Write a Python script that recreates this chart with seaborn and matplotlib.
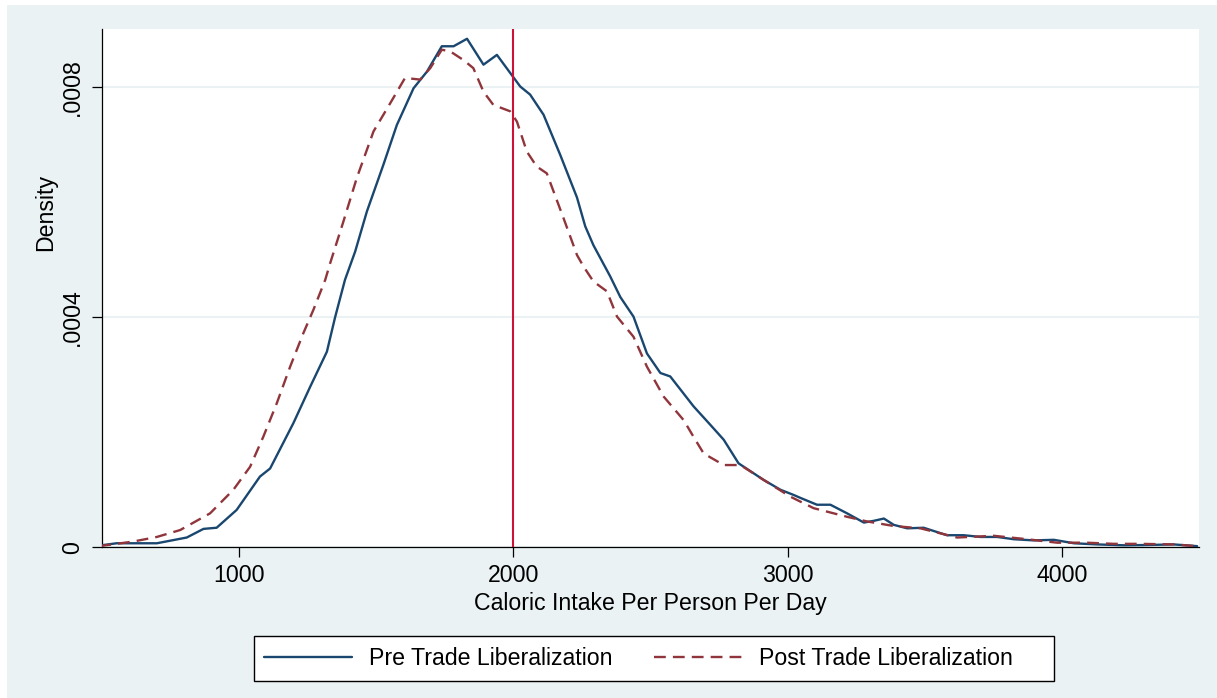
import matplotlib
matplotlib.use('Agg')
import matplotlib.pyplot as plt
from matplotlib.lines import Line2D
from matplotlib.patches import Rectangle
import pandas as pd
import seaborn as sns

# Kernel density values
pre_x = [490, 553, 639, 700, 809, 870, 918, 991, 1076, 1113, 1198, 1259, 1320, 1350,
         1386, 1423, 1466, 1526, 1575, 1636, 1685, 1739, 1782, 1831, 1891, 1940, 1994,
         2025, 2061, 2110, 2171, 2232, 2262, 2292, 2353, 2390, 2438, 2487, 2536, 2572,
         2657, 2718, 2767, 2821, 2913, 2974, 3022, 3046, 3107, 3156, 3217, 3278, 3314,
         3351, 3387, 3436, 3496, 3581, 3642, 3703, 3764, 3825, 3898, 3971, 4044, 4129,
         4226, 4311, 4408, 4493]
pre_density = [0.000003, 0.000007, 0.000007, 0.000007, 0.000017, 0.000032, 0.000034,
               0.000065, 0.000123, 0.000137, 0.000216, 0.000279, 0.000340, 0.000400,
               0.000465, 0.000514, 0.000584, 0.000665, 0.000734, 0.000798, 0.000827,
               0.000871, 0.000871, 0.000884, 0.000839, 0.000856, 0.000821, 0.000801,
               0.000787, 0.000752, 0.000682, 0.000608, 0.000558, 0.000525, 0.000471,
               0.000435, 0.000401, 0.000337, 0.000303, 0.000297, 0.000245, 0.000213,
               0.000187, 0.000146, 0.000117, 0.000100, 0.000091, 0.000086, 0.000074,
               0.000074, 0.000059, 0.000043, 0.000046, 0.000050, 0.000039, 0.000033,
               0.000034, 0.000021, 0.000021, 0.000018, 0.000018, 0.000014, 0.000012,
               0.000013, 0.000007, 0.000005, 0.0000035, 0.000004, 0.000005, 0.000002]

post_x = [490, 614, 700, 785, 894, 979, 1040, 1088, 1137, 1186, 1234, 1271, 1314, 1332,
          1380, 1429, 1490, 1551, 1605, 1660, 1697, 1739, 1770, 1818, 1854, 1891, 1927,
          1988, 2013, 2049, 2085, 2122, 2183, 2232, 2256, 2292, 2341, 2378, 2438, 2487,
          2548, 2621, 2657, 2694, 2767, 2828, 2913, 3010, 3095, 3217, 3289, 3387, 3484,
          3618, 3752, 3874, 3983, 4092, 4190, 4286, 4408, 4493]
post_density = [0.000002, 0.000010, 0.000018, 0.000030, 0.000059, 0.000100, 0.000140,
                0.000192, 0.000250, 0.000314, 0.000372, 0.000413, 0.000465, 0.000494,
                0.000566, 0.000642, 0.000723, 0.000772, 0.000816, 0.000813, 0.000833,
                0.000865, 0.000862, 0.000847, 0.000833, 0.000792, 0.000769, 0.000758,
                0.000740, 0.000688, 0.000662, 0.000650, 0.000572, 0.000508, 0.000488,
                0.000462, 0.000445, 0.000401, 0.000366, 0.000314, 0.000262, 0.000221,
                0.000192, 0.000163, 0.000143, 0.000143, 0.000117, 0.000088, 0.000068,
                0.000053, 0.000045, 0.000037, 0.000033, 0.000017, 0.000020, 0.000014,
                0.000008, 0.000008, 0.000006, 0.000006, 0.000005, 0.000002]

series_names = ['Pre Trade Liberalization', 'Post Trade Liberalization']
x_ticks = [1000, 2000, 3000, 4000]
y_ticks = [0, 0.0004, 0.0008]
y_tick_labels = ['0', '.0004', '.0008']
cutoff = 2000

df = pd.concat([
    pd.DataFrame({'calories': pre_x, 'density': pre_density, 'period': series_names[0]}),
    pd.DataFrame({'calories': post_x, 'density': post_density, 'period': series_names[1]}),
])

BG = '#EAF2F3'
NAVY = '#1A476F'
MAROON = '#90353B'
RED = '#CC1237'
FS = 16.7
W, H = 1217, 698
DASH = (5, 3)

sns.set_style('ticks')
plt.rcParams['font.family'] = ['Liberation Sans', 'DejaVu Sans']
plt.rcParams['text.color'] = 'black'
plt.rcParams['xtick.color'] = 'black'
plt.rcParams['ytick.color'] = 'black'
plt.rcParams['axes.labelcolor'] = 'black'

fig = plt.figure(figsize=(W / 100, H / 100), dpi=100, facecolor='white')
# light graph region with a thin white margin at top and left
fig.patches.append(Rectangle((7 / W, 0), 1, 1 - 5 / H, transform=fig.transFigure,
                             facecolor=BG, edgecolor='none', zorder=-10))
# legend box drawn by hand so its padding matches
fig.patches.append(Rectangle((254 / W, (H - 681) / H), 800 / W, 45 / H,
                             transform=fig.transFigure, facecolor='white',
                             edgecolor='black', linewidth=1.0, zorder=-5))

ax = fig.add_axes([102 / W, 150.7 / H, 1097 / W, 518.3 / H])
ax.set_facecolor('white')

sns.lineplot(data=df, x='calories', y='density', hue='period', style='period',
             hue_order=series_names, style_order=series_names,
             palette={series_names[0]: NAVY, series_names[1]: MAROON},
             dashes={series_names[0]: '', series_names[1]: DASH},
             linewidth=1.7, legend=False, ax=ax, zorder=3)
ax.axvline(cutoff, color=RED, linewidth=1.5, zorder=4)

ax.set_xlim(500, 4500)
ax.set_ylim(0, 0.000901)
ax.set_xticks(x_ticks)
ax.set_xticklabels([str(t) for t in x_ticks], fontsize=FS)
ax.set_yticks(y_ticks)
ax.set_yticklabels(y_tick_labels, fontsize=FS, rotation=90, va='center')
ax.grid(axis='y', color=BG, linewidth=1.5)
ax.grid(axis='x', visible=False)
ax.tick_params(axis='both', direction='out', length=7.2, width=0.9, color='black')
ax.tick_params(axis='x', pad=5)
ax.tick_params(axis='y', pad=6)
sns.despine(ax=ax)
for side in ['left', 'bottom']:
    ax.spines[side].set_color('black')
    ax.spines[side].set_linewidth(0.9)

ax.set_xlabel('Caloric Intake Per Person Per Day', fontsize=FS)
ax.set_ylabel('Density', fontsize=FS)
ax.xaxis.set_label_coords(0.5, -0.087)
ax.yaxis.set_label_coords(-0.041, 0.647)

handles = [Line2D([], [], color=NAVY, linewidth=1.7),
           Line2D([], [], color=MAROON, linewidth=1.7, linestyle=(0, DASH))]
leg = fig.legend(handles, series_names, loc='center left',
                 bbox_to_anchor=(254 / W, (H - 658.5) / H), ncol=2, frameon=False,
                 handlelength=3.8, handletextpad=0.73, columnspacing=1.8,
                 borderpad=0.43, borderaxespad=0, fontsize=FS)

plt.savefig('out.png', dpi=100, facecolor=fig.get_facecolor())
